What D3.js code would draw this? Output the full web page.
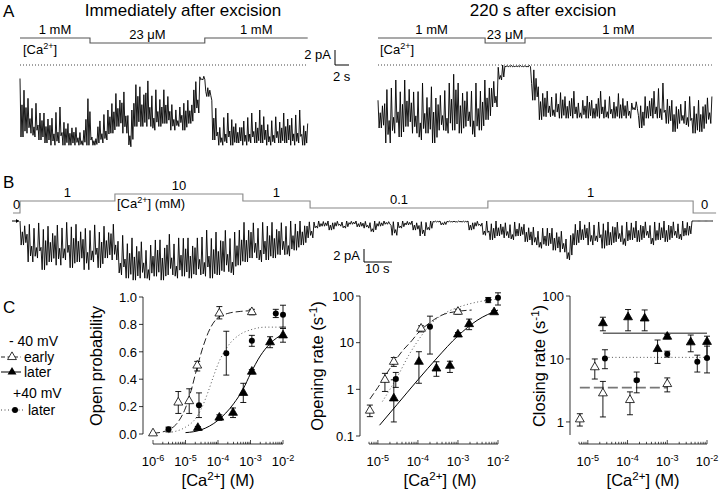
<!DOCTYPE html>
<html><head><meta charset="utf-8">
<script src="https://cdn.jsdelivr.net/npm/d3@7"></script>
<style>body{margin:0;background:#fff}svg{display:block}text{font-family:"Liberation Sans",Arial,Helvetica,sans-serif}</style>
</head><body><svg id="chart"></svg>
<script>
// ================= DATA =================
// Panel A, left trace: per-bin [upper, lower] current envelope (pA)
const traceA1Seconds = 41.1;
const traceA1 = [
[-1.8,-9.6],[-4.2,-9.1],[-5.1,-9.6],[-6.0,-10.0],[-6.4,-10.4],[-6.9,-10.7],[-5.6,-10.4],[-7.3,-10.7],
[-7.8,-10.7],[-8.2,-10.7],[-8.7,-10.7],[-3.8,-10.7],[-9.6,-10.7],[-7.3,-10.4],[-6.0,-10.0],[-4.7,-9.1],
[-3.8,-8.2],[-3.3,-9.1],[-6.0,-10.9],[-2.0,-8.2],[-2.9,-8.2],[-1.8,-8.2],[-3.3,-8.7],[-4.2,-8.2],
[-3.3,-7.8],[-5.1,-8.7],[-5.6,-8.2],[-4.7,-8.7],[-4.7,-7.8],[-2.0,-6.4],[-1.5,-2.0],[-2.9,-4.2],
[-4.7,-10.0],[-8.2,-10.7],[-6.4,-10.4],[-6.9,-10.7],[-7.8,-10.4],[-7.3,-10.7],[-6.4,-10.4],[-7.3,-10.4],
[-6.0,-10.4],[-7.8,-10.7],[-6.9,-10.4],[-7.3,-10.4],[-6.4,-10.4],[-6.9,-10.7],[-6.0,-10.4],[-7.8,-10.7]
];
const caA1 = [[0,10,1],[10,26.4,0.023],[26.4,41.1,1]];          // [t0 s, t1 s, mM]
const caA1Labels = ["1 mM","23 \u03bcM","1 mM"];

// Panel A, right trace
const traceA2Seconds = 47.7;
const traceA2 = [
[-4.7,-8.4],[-2.9,-10.4],[-2.0,-9.1],[-2.9,-9.6],[-2.0,-8.2],[-3.3,-9.1],[-2.4,-10.0],[-3.8,-9.1],
[-2.9,-10.4],[-3.8,-8.7],[-2.4,-9.1],[-0.4,-8.7],[-2.4,-9.1],[-3.3,-8.2],[-2.4,-9.6],[-2.9,-8.7],
[-2.0,-7.3],[-2.0,-5.6],[0,-2.0],[-0.05,-0.25],[-0.05,-0.25],[-0.05,-0.25],[-0.05,-0.25],[-0.2,-4.7],
[-2.9,-7.3],[-3.3,-6.9],[-3.8,-6.9],[-3.3,-7.1],[-4.2,-7.1],[-3.3,-7.1],[-4.7,-7.1],[-3.8,-7.1],
[-4.7,-7.1],[-3.3,-7.1],[-4.2,-7.1],[-4.7,-7.1],[-3.8,-7.1],[-4.7,-7.1],[-4.9,-6.0],[-5.1,-8.4],
[-4.2,-7.1],[-3.3,-7.1],[-2.4,-7.3],[-4.2,-7.8],[-4.7,-8.9],[-5.1,-7.8],[-4.2,-8.2],[-5.1,-9.1],
[-4.7,-8.9],[-4.2,-7.8]
];
const caA2 = [[0,15.3,1],[15.3,21,0.023],[21,47.7,1]];
const caA2Labels = ["1 mM","23 \u03bcM","1 mM"];

// Panel B trace
const traceBSeconds = 247.5;
const traceB = [
[0,-3.7],[-0.2,-6.3],[-0.3,-5.7],[-0.6,-7.5],[-0.8,-6.3],[-0.3,-6.8],[-0.2,-6.0],[-0.2,-7.2],[-0.5,-6.3],[-0.8,-7.5],
[-0.6,-6.3],[-1.1,-7.2],[-0.8,-5.7],[-0.2,-6.0],[-2.2,-8.3],[-2.9,-8.8],[-2.6,-9.1],[-2.9,-8.8],[-3.7,-9.1],[-2.3,-8.5],
[-2.9,-9.1],[-1.7,-8.3],[-2.6,-8.8],[-2.0,-8.5],[-2.6,-8.8],[-2.3,-8.3],[-1.4,-8.5],[-2.0,-8.8],[-1.7,-8.3],[-1.1,-7.8],
[-1.7,-8.3],[-0.8,-6.8],[-0.2,-6.3],[0,-5.7],[-0.2,-6.3],[-0.2,-6.0],[-0.2,-5.7],[0,-5.2],[0,-5.4],[0,-4.5],
[0,-3.7],[0,-2.6],[0,-1.1],[0,-0.8],[0,-1.4],[0,-0.8],[0,-1.1],[0,-0.5],[0,-0.9],[0,-1.1],
[0,-1.7],[0,-0.8],[0,-0.5],[0,-2.2],[0,-1.1],[0,-0.6],[0,-1.4],[0,-2.3],[0,-1.4],[0,-0.15],
[0,-0.6],[0,-0.15],[0,-0.15],[0,-0.15],[0,-1.4],[0,-0.8],[0,-2.2],[-0.15,-2.9],[0,-2.3],[-0.15,-2.6],
[-0.15,-2.9],[-0.15,-2.3],[-0.5,-3.2],[-0.8,-3.7],[-1.1,-4.2],[-0.8,-3.8],[-1.1,-4.5],[-1.4,-4.8],[-2.2,-6.0],[-0.15,-3.7],
[0,-2.9],[0,-3.7],[-0.15,-3.2],[0,-4.2],[-0.15,-3.7],[0,-3.2],[-0.15,-3.8],[0,-2.9],[0,-3.2],[0,-2.6],
[-0.15,-3.7],[0,-2.9],[0,-3.2],[0,-2.6],[0,-2.9],[0,-2.2],[0,0],[0,0],[0,0]
];
const caB = [[-2.5,0,0],[0,33.9,1],[33.9,79.6,10],[79.6,103.6,1],[103.6,167.1,0.1],[167.1,240.4,1],[240.4,248.6,0]];
const caBLabels = ["0","1","10","1","0.1","1","0"];

// Panel C: [Ca (M), value, errLow, errHigh, xErrFactor]
const poEarly = [[1.0e-6,0.005],[6.0e-6,0.23,0.15,0.31],[1.3e-5,0.24,0.15,0.33],[2.3e-5,0.50,0.46,0.53],[1.1e-4,0.88,0.84,0.93],[1.1e-3,0.89,0.87,0.91]];
const poLater = [[2.4e-5,0.045,0.035,0.055],[1.1e-4,0.12,0.10,0.14],[2.9e-4,0.155,0.12,0.19],[6.0e-4,0.30,0.23,0.37],[1.1e-3,0.455,0.44,0.47],[4.0e-3,0.67,0.63,0.71],[1.0e-2,0.72,0.67,0.77]];
const poPos = [[3.0e-6,0.035,0.015,0.05],[2.6e-5,0.21,0.12,0.30,1.12],[1.8e-4,0.59,0.43,0.75,1.12],[1.1e-3,0.68,0.64,0.72],[6.0e-3,0.88,0.85,0.91],[1.0e-2,0.87,0.78,0.94]];
const poEarlyFit = [[1e-6,0.004],[3e-6,0.03],[6e-6,0.09],[1e-5,0.19],[1.5e-5,0.32],[2.3e-5,0.49],[3.5e-5,0.64],[5e-5,0.74],[1e-4,0.85],[2e-4,0.88],[5e-4,0.895],[1.1e-3,0.9]];
const poPosFit = [[3e-6,0.01],[1e-5,0.05],[2e-5,0.11],[3e-5,0.18],[5e-5,0.31],[7e-5,0.41],[1e-4,0.51],[2e-4,0.64],[5e-4,0.73],[1e-3,0.76],[3e-3,0.78],[1e-2,0.78]];
const poLaterFit = [[1e-5,0.01],[3e-5,0.03],[1e-4,0.1],[3e-4,0.22],[6e-4,0.33],[1e-3,0.44],[2e-3,0.57],[4e-3,0.66],[1e-2,0.73]];

const orEarly = [[6.3e-6,0.35,0.26,0.46],[1.5e-5,1.6,0.9,2.2],[2.5e-5,3.9,3.1,4.8],[1.2e-4,20,17,23],[1.0e-3,46,41,52]];
const orLater = [[2.5e-5,0.64,0.2,1.6],[1.06e-4,3.9,1.35,6.4],[2.9e-4,2.8,1.9,3.9],[6.3e-4,3.2,2.3,4.0],[1.0e-3,15,14,16.5],[1.9e-3,25,19,32],[8.0e-3,45,42,48]];
const orPos = [[2.8e-5,1.66,1.1,2.3,1.12],[2.0e-4,22,5.7,37],[5.7e-3,82,72,93],[1.0e-2,92,64,117]];
const orEarlyFit = [[6.3e-6,0.62],[1e-5,1.1],[2e-5,2.8],[4e-5,6.5],[7e-5,11],[1e-4,16],[2e-4,27],[4e-4,39],[1e-3,47],[2.2e-3,50]];
const orPosFit = [[1.3e-5,0.55],[2e-5,1.0],[3e-5,1.8],[6e-5,5.5],[1e-4,11],[2e-4,24],[5e-4,44],[1e-3,57],[3e-3,74],[1e-2,86]];
const orLaterFit = [[1.1e-5,0.17],[3e-5,0.47],[1e-4,1.6],[3e-4,4.7],[1e-3,14],[3e-3,30],[1e-2,50]];

const crLater = [[2.4e-5,37,28,46],[1.03e-4,46,28,61],[2.7e-4,44,28,60],[5.7e-4,14.4,8.5,20],[1.0e-3,22.6,21,24.5],[3.9e-3,18.4,13,24],[1.0e-2,18.7,10,23]];
const crPos = [[2.7e-5,10.2,7,14],[1.7e-4,4.6,2.9,6.2,1.15],[1.0e-3,12,10.7,13.3],[5.7e-3,9,6.2,11.5],[1.0e-2,10.4,6.0,16]];
const crEarly = [[6.3e-6,1.1,0.86,1.35],[1.5e-5,7.4,4.8,10],[2.4e-5,2.85,1.2,4.4],[1.15e-4,2.23,1.3,3.0],[1.0e-3,4.0,3.0,5.0]];
const crLaterFit = [[2.4e-5,25.6],[1e-2,25.6]];
const crPosFit = [[2.7e-5,10.6],[1e-2,10.6]];
const crEarlyFit = [[6.3e-6,3.5],[1e-3,3.5]];

const poYTicks = [0,0.2,0.4,0.6,0.8,1.0];
const orYTicks = [0.1,1,10,100];
const crYTicks = [1,10,100];
const poXTicks = [1e-6,1e-5,1e-4,1e-3,1e-2];
const orXTicks = [1e-5,1e-4,1e-3,1e-2];
const crXTicks = [1e-5,1e-4,1e-3,1e-2];

// ================= DRAWING =================
const svg = d3.select("#chart").attr("width",720).attr("height",492);

function addText(parent, x, y, parts, o = {}) {
  const size = o.size || 13;
  const t = parent.append("text").attr("x", x).attr("y", y)
    .attr("font-size", size).attr("text-anchor", o.anchor || "start").attr("fill", o.fill || "#000");
  if (o.rotate) t.attr("transform", `rotate(-90,${x},${y})`);
  if (typeof parts === "string") parts = [parts];
  let back = 0;
  parts.forEach(p => {
    if (typeof p === "string") {
      const ts = t.append("tspan").text(p);
      if (back) { ts.attr("dy", back); back = 0; }
    } else {
      const s = size * 0.38;
      t.append("tspan").attr("dy", -s).attr("font-size", size * 0.7).text(p.sup);
      back = s;
    }
  });
  return t;
}

// stroke pattern inside one envelope bin (0 = upper edge, 1 = lower edge), purely a drawing style
const strokeStyles = [[0,1,0.45,1,0.2,0.9],[0.3,1,0.05,0.85,0.6,1],[0.15,0.95,0.7,1,0,0.8],[0.5,1,0.1,1,0.35,0.9]];
function drawTrace(data, seconds, x0, pxPerS, y0, pxPerPA) {
  const x = d3.scaleLinear().domain([0, seconds]).range([x0, x0 + seconds * pxPerS]);
  const y = d3.scaleLinear().domain([0, -1]).range([y0, y0 + pxPerPA]);
  const dt = seconds / data.length;
  const pts = [];
  data.forEach((d, i) => {
    const st = strokeStyles[i % strokeStyles.length];
    st.forEach((f, k) => pts.push([(i + k / st.length) * dt, d[0] + (d[1] - d[0]) * f]));
  });
  pts.push([seconds, data[data.length - 1][0]]);
  svg.append("path").attr("d", d3.line().x(p => x(p[0])).y(p => y(p[1]))(pts))
    .attr("fill", "none").attr("stroke", "#000").attr("stroke-width", 0.9).attr("stroke-linejoin", "bevel");
  return { x, y };
}

function drawSteps(steps, labels, x, lev, color, labelSize) {
  const pts = [];
  steps.forEach(s => { pts.push([s[0], s[2]]); pts.push([s[1], s[2]]); });
  svg.append("path").attr("d", d3.line().x(p => x(p[0])).y(p => lev(p[1]))(pts))
    .attr("fill", "none").attr("stroke", color).attr("stroke-width", 1.1);
  steps.forEach((s, i) => {
    addText(svg, x((s[0] + s[1]) / 2), lev(s[2]) - 4.5, labels[i], { anchor: "middle", size: labelSize });
  });
}

// ---------- Panel A ----------
addText(svg, 3, 17, "A", { size: 17 });
addText(svg, 183, 16, "Immediately after excision", { anchor: "middle", size: 17 });
addText(svg, 543, 16, "220 s after excision", { anchor: "middle", size: 17 });

const levA = d3.scaleLog().domain([0.023, 1]).range([43, 38]);
const tA1 = drawTrace(traceA1, traceA1Seconds, 20, 7, 65, 7.5);
drawSteps(caA1, caA1Labels, tA1.x, levA, "#555", 13);
svg.append("line").attr("x1", tA1.x(0)).attr("x2", tA1.x(traceA1Seconds)).attr("y1", tA1.y(0)).attr("y2", tA1.y(0))
  .attr("stroke", "#444").attr("stroke-dasharray", "1,2");
addText(svg, 23, 54, ["[Ca", { sup: "2+" }, "]"], { size: 13 });

const tA2 = drawTrace(traceA2, traceA2Seconds, 378, 7, 65, 7.5);
drawSteps(caA2, caA2Labels, tA2.x, levA, "#555", 13);
svg.append("line").attr("x1", tA2.x(0)).attr("x2", tA2.x(traceA2Seconds)).attr("y1", tA2.y(0)).attr("y2", tA2.y(0))
  .attr("stroke", "#444").attr("stroke-dasharray", "1,2");
addText(svg, 380, 54, ["[Ca", { sup: "2+" }, "]"], { size: 13 });

// scale bar A (2 pA, 2 s)
const sbx = 335;
svg.append("path").attr("d", `M${sbx},${tA1.y(2)}V${tA1.y(0)}H${sbx + 2 * 7}`)
  .attr("fill", "none").attr("stroke", "#000").attr("stroke-width", 1);
addText(svg, sbx - 4, 59, "2 pA", { anchor: "end" });
addText(svg, sbx - 2, 81, "2 s");

// ---------- Panel B ----------
addText(svg, 3, 188, "B", { size: 17 });
const levBlog = d3.scaleLog().domain([0.1, 10]).range([208, 194]);
const levB = v => v === 0 ? 213 : levBlog(v);
const tB = drawTrace(traceB, traceBSeconds, 20, 2.8, 221, 6.5);
drawSteps(caB, caBLabels, tB.x, levB, "#888", 13);
addText(svg, 117, 208, ["[Ca", { sup: "2+" }, "] (mM)"], { size: 13 });
// zero-current marker
svg.append("path").attr("d", `M12,${tB.y(0)}H19`).attr("stroke", "#000").attr("stroke-width", 1);
svg.append("path").attr("d", `M19,${tB.y(0)}l-3,-2v4z`).attr("fill", "#000");
// scale bar B (2 pA, 10 s)
const sbBx = 364, sbBy = 262;
svg.append("path").attr("d", `M${sbBx},${sbBy - 2 * 6.5}V${sbBy}H${sbBx + 10 * 2.8}`)
  .attr("fill", "none").attr("stroke", "#000").attr("stroke-width", 1);
addText(svg, sbBx - 4, 260, "2 pA", { anchor: "end" });
addText(svg, sbBx + 1, 273, "10 s");

// ---------- Panel C ----------
addText(svg, 3, 313, "C", { size: 17 });

function xAxisLog(x, yPos, majors) {
  const [d0, d1] = x.domain();
  const g = svg.append("g");
  g.append("line").attr("x1", x(d0)).attr("x2", x(d1)).attr("y1", yPos).attr("y2", yPos).attr("stroke", "#000").attr("stroke-width", 0.8);
  for (let e = -8; e <= 2; e++) for (let m = 1; m <= 9; m++) {
    const v = +(m + "e" + e);
    if (v < d0 * 0.999 || v > d1 * 1.001) continue;
    const L = m === 1 ? 4 : 2.2;
    g.append("line").attr("x1", x(v)).attr("x2", x(v)).attr("y1", yPos).attr("y2", yPos - L).attr("stroke", "#000").attr("stroke-width", 0.7);
  }
  majors.forEach(v => {
    addText(g, x(v), yPos + 22, ["10", { sup: String(Math.round(Math.log10(v))) }], { anchor: "middle", size: 13 });
  });
}
function yAxis(y, xPos, ticks, fmt) {
  const g = svg.append("g");
  const r = y.range();
  g.append("line").attr("x1", xPos).attr("x2", xPos).attr("y1", r[0]).attr("y2", r[1]).attr("stroke", "#000").attr("stroke-width", 0.8);
  ticks.forEach(v => {
    g.append("line").attr("x1", xPos - 4).attr("x2", xPos).attr("y1", y(v)).attr("y2", y(v)).attr("stroke", "#000").attr("stroke-width", 0.8);
    addText(g, xPos - 6, y(v) + 4.7, fmt(v), { anchor: "end", size: 13 });
  });
}
function fit(x, y, pts, color, dash, width) {
  svg.append("path").attr("d", d3.line().x(d => x(d[0])).y(d => y(d[1])).curve(d3.curveMonotoneX)(pts))
    .attr("fill", "none").attr("stroke", color).attr("stroke-width", width || 1)
    .attr("stroke-dasharray", dash || null);
}
const triSym = d3.symbol(d3.symbolTriangle, 34)();
function points(x, y, data, kind) {
  const g = svg.append("g");
  data.forEach(d => {
    const cx = x(d[0]), cy = y(d[1]);
    if (d[2] !== undefined) {
      const y1 = y(d[2]), y2 = y(d[3]);
      g.append("path").attr("d", `M${cx},${y1}V${y2}M${cx - 3},${y1}h6M${cx - 3},${y2}h6`)
        .attr("stroke", "#000").attr("stroke-width", 0.9).attr("fill", "none");
    }
    if (d[4]) {
      const x1 = x(d[0] / d[4]), x2 = x(d[0] * d[4]);
      g.append("path").attr("d", `M${x1},${cy}H${x2}M${x1},${cy - 2}v4M${x2},${cy - 2}v4`)
        .attr("stroke", "#000").attr("stroke-width", 0.9).attr("fill", "none");
    }
    if (kind === "circle") {
      g.append("circle").attr("cx", cx).attr("cy", cy).attr("r", 3).attr("fill", "#000");
    } else {
      g.append("path").attr("d", triSym).attr("transform", `translate(${cx},${cy})`)
        .attr("fill", kind === "triOpen" ? "#fff" : "#000").attr("stroke", "#000").attr("stroke-width", 0.8);
    }
  });
}

// Chart 1: open probability
const xPo = d3.scaleLog().domain([1e-6, 1e-2]).range([153, 283]);
const yPo = d3.scaleLinear().domain([0, 1]).range([434, 297]);
yAxis(yPo, 143, poYTicks, v => v.toFixed(1));
xAxisLog(xPo, 444, poXTicks);
addText(svg, 102, 366, "Open probability", { anchor: "middle", size: 16.5, rotate: true });
addText(svg, 218, 486, ["[Ca", { sup: "2+" }, "] (M)"], { anchor: "middle", size: 16.5 });
fit(xPo, yPo, poEarlyFit, "#222", "7,3");
fit(xPo, yPo, poPosFit, "#555", "1,2.5");
fit(xPo, yPo, poLaterFit, "#000", null);
points(xPo, yPo, poPos, "circle");
points(xPo, yPo, poLater, "triFilled");
points(xPo, yPo, poEarly, "triOpen");

// Chart 2: opening rate
const xOr = d3.scaleLog().domain([6e-6, 1e-2]).range([369, 498]);
const yOr = d3.scaleLog().domain([0.1, 100]).range([436, 296]);
yAxis(yOr, 360, orYTicks, v => String(v));
xAxisLog(xOr, 444, orXTicks);
addText(svg, 323, 366, ["Opening rate (s", { sup: "-1" }, ")"], { anchor: "middle", size: 16.5, rotate: true });
addText(svg, 440, 486, ["[Ca", { sup: "2+" }, "] (M)"], { anchor: "middle", size: 16.5 });
fit(xOr, yOr, orEarlyFit, "#222", "7,3");
fit(xOr, yOr, orPosFit, "#555", "1,2.5");
fit(xOr, yOr, orLaterFit, "#000", null);
points(xOr, yOr, orPos, "circle");
points(xOr, yOr, orLater, "triFilled");
points(xOr, yOr, orEarly, "triOpen");

// Chart 3: closing rate
const xCr = d3.scaleLog().domain([6e-6, 1e-2]).range([579, 707]);
const yCr = d3.scaleLog().domain([0.62, 100]).range([435, 296]);
yAxis(yCr, 570, crYTicks, v => String(v));
xAxisLog(xCr, 444, crXTicks);
addText(svg, 545, 366, ["Closing rate (s", { sup: "-1" }, ")"], { anchor: "middle", size: 16.5, rotate: true });
addText(svg, 643, 486, ["[Ca", { sup: "2+" }, "] (M)"], { anchor: "middle", size: 16.5 });
fit(xCr, yCr, crEarlyFit, "#777", "10,4", 1.6);
fit(xCr, yCr, crPosFit, "#555", "1,2.5");
fit(xCr, yCr, crLaterFit, "#666", null, 1.5);
points(xCr, yCr, crPos, "circle");
points(xCr, yCr, crLater, "triFilled");
points(xCr, yCr, crEarly, "triOpen");

// Legend
addText(svg, 9, 346, "- 40 mV", { size: 14 });
svg.append("line").attr("x1", 1).attr("x2", 21).attr("y1", 357).attr("y2", 357).attr("stroke", "#222").attr("stroke-dasharray", "4,2.5");
svg.append("path").attr("d", triSym).attr("transform", "translate(12,357)").attr("fill", "#fff").attr("stroke", "#000").attr("stroke-width", 0.8);
addText(svg, 24, 362, "early", { size: 14 });
svg.append("line").attr("x1", 1).attr("x2", 21).attr("y1", 372).attr("y2", 372).attr("stroke", "#000");
svg.append("path").attr("d", triSym).attr("transform", "translate(12,372)").attr("fill", "#000");
addText(svg, 24, 377, "later", { size: 14 });
addText(svg, 13, 398, "+40 mV", { size: 14 });
svg.append("line").attr("x1", 1).attr("x2", 25).attr("y1", 410).attr("y2", 410).attr("stroke", "#444").attr("stroke-dasharray", "1,2.5");
svg.append("circle").attr("cx", 15).attr("cy", 410).attr("r", 3).attr("fill", "#000");
addText(svg, 28, 415, "later", { size: 14 });
</script></body></html>
